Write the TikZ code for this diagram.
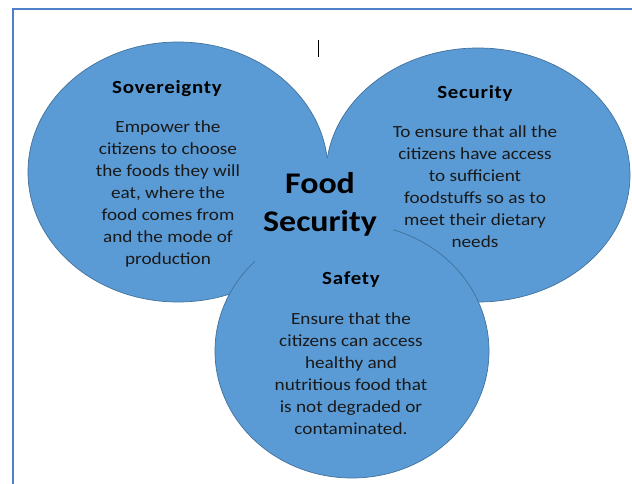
\documentclass[tikz,border=0pt]{standalone}
\usepackage{fontspec}
\setmainfont{Carlito}[FakeStretch=1.13]
\definecolor{cfill}{HTML}{5B9BD5}
\definecolor{cline}{HTML}{41719C}
\definecolor{frame}{HTML}{4F7FC8}
\begin{document}
\begin{tikzpicture}[x=1pt,y=-1pt,
  circ/.style={fill=cfill,draw=cline,line width=0.7pt},
  ttl/.style={font=\fontsize{18.5}{22}\selectfont\bfseries\addfontfeatures{LetterSpace=4},text=black},
  body/.style={font=\fontsize{17}{22}\selectfont,align=center,text=black!90,inner sep=0pt},
  big/.style={font=\fontsize{30}{38}\selectfont\bfseries,align=center,text=black,inner sep=0pt}]
\useasboundingbox (0,0) rectangle (632,484);
\fill[white] (0,0) rectangle (632,484);
\draw[frame,line width=1.3pt] (13,9) rectangle (650,500);
\draw[black,line width=0.9pt] (318,40) -- (318,57);
% circles
\draw[circ] (178,172) ellipse [x radius=150pt, y radius=130pt];
\draw[circ] (478,175) ellipse [x radius=152pt, y radius=127pt];
\draw[circ] (352,351) ellipse [x radius=137pt, y radius=127pt];
% centre box
\fill[cfill] (255,158) rectangle (393,263);
% texts
\node[ttl] (sovt) at (167,89) {Sovereignty};
\node[body] (sovb) at (168,194) {Empower the\\citizens to choose\\the foods they will\\eat, where the\\food comes from\\and the mode of\\production};
\node[ttl] (sect) at (475,93) {Security};
\node[body] (secb) at (475,186.5) {To ensure that all the\\citizens have access\\to sufficient\\foodstuffs so as to\\meet their dietary\\needs};
\node[ttl] (saft) at (351,280) {Safety};
\node[body] (safb) at (351,374) {Ensure that the\\citizens can access\\healthy and\\nutritious food that\\is not degraded or\\contaminated.};
\node[big] (food) at (320,204) {Food\\Security};
\end{tikzpicture}
\end{document}
